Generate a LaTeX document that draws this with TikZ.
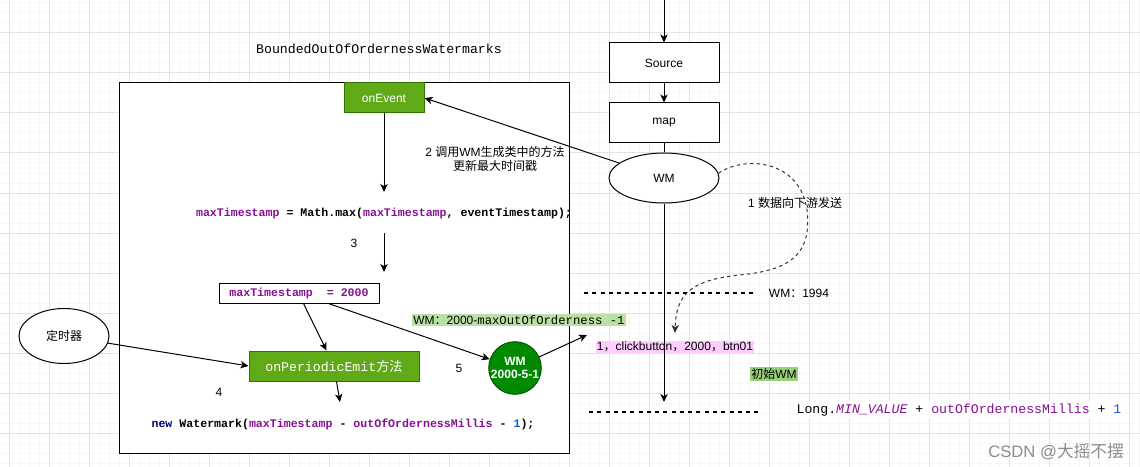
\documentclass[tikz,border=0pt]{standalone}
\usepackage{fontspec}
\setmainfont{Liberation Sans}
\newfontfamily\cjk{Noto Sans CJK SC}
\newfontfamily\mono{Liberation Mono}
\usetikzlibrary{arrows.meta,shapes.geometric,calc}
\definecolor{kwpurple}{HTML}{871094}
\definecolor{kwnavy}{HTML}{000080}
\definecolor{numblue}{HTML}{1750EB}
\definecolor{boxgreen}{HTML}{60A917}
\definecolor{boxgreenline}{HTML}{2D7600}
\definecolor{circgreen}{HTML}{008A00}
\definecolor{circgreenline}{HTML}{005700}
\definecolor{lblgreen}{HTML}{B9E0A5}
\definecolor{lblgreen2}{HTML}{97D077}
\definecolor{lblpink}{HTML}{FFCCFF}
\definecolor{gridminor}{HTML}{F7F7F7}
\definecolor{gridmajor}{HTML}{E3E3E3}
\newcommand{\pp}[1]{\textcolor{kwpurple}{#1}}
\tikzset{
  arr/.style={-{Stealth[length=6pt,width=5.5pt,inset=1.6pt]}},
  sans/.style={font=\fontsize{9}{11}\selectfont},
  plainbox/.style={draw=black,fill=white,minimum width=82.5pt,minimum height=30pt,inner sep=0pt,sans},
  greenbox/.style={draw=boxgreenline,fill=boxgreen,text=white,inner sep=0pt},
  lbl/.style={inner sep=1pt,sans},
  dotline/.style={line width=1.5pt,dash pattern=on 3pt off 3.2pt},
}
\begin{document}
\begin{tikzpicture}[x=0.75pt,y=-0.75pt,line width=0.75pt]
\useasboundingbox (0,0) rectangle (1140,467);
\fill[white] (0,0) rectangle (1140,467);
% grid
\foreach \x in {9,19,...,1139} \draw[gridminor,line width=0.75pt] (\x,0) -- (\x,467);
\foreach \y in {3,13,...,463} \draw[gridminor,line width=0.75pt] (0,\y) -- (1140,\y);
\foreach \x in {9,49,...,1129} \draw[gridmajor,line width=0.75pt] (\x,0) -- (\x,467);
\foreach \y in {33,73,...,453} \draw[gridmajor,line width=0.75pt] (0,\y) -- (1140,\y);

% title
\node (title) at (379,49) {\mono\fontsize{9.9}{12}\selectfont BoundedOutOfOrdernessWatermarks};

% frame
\node[draw=black,fill=white,minimum width=337.5pt,minimum height=277.5pt,inner sep=0pt] (frame) at (344,268) {};

% boxes in frame
\node[greenbox,minimum width=60pt,minimum height=22.5pt,sans] (onevent) at (384,98) {onEvent};
\node (mathmax) at (384,214) {\mono\bfseries\fontsize{8.7}{10}\selectfont \pp{maxTimestamp} = Math.max(\pp{maxTimestamp}, eventTimestamp);};
\node[lbl] (n3) at (354,243) {3};
\node[draw=black,fill=white,minimum width=120pt,minimum height=15pt,inner sep=0pt] (maxbox) at (299,293) {\mono\bfseries\fontsize{8.7}{10}\selectfont \pp{maxTimestamp\ \ = 2000}};
\node[greenbox,minimum width=127.5pt,minimum height=22.5pt] (periodic) at (334,366) {\mono\fontsize{9.9}{12}\selectfont onPeriodicEmit{\cjk 方法}};
\node[lbl] (n4) at (219,392) {4};
\node[lbl] (n5) at (459,368) {5};
\node[circle,draw=circgreenline,fill=circgreen,text=white,minimum size=39pt,inner sep=0pt,align=center,font=\bfseries\fontsize{9}{10}\selectfont] (wmc) at (515,368) {WM\\2000-5-1};
\node (newwm) at (343,424) {\mono\bfseries\fontsize{8.7}{10}\selectfont \textcolor{kwnavy}{new} Watermark(\pp{maxTimestamp} - \pp{outOfOrdernessMillis} - \textcolor{numblue}{1});};

% timer
\node[ellipse,draw=black,fill=white,minimum width=67.5pt,minimum height=41.25pt,inner sep=0pt,sans] (timer) at (64,336) {\cjk 定时器};

% right column
\coordinate (top) at (664,0);
\node[plainbox] (src) at (664,63) {Source};
\node[plainbox] (map) at (664,123) {map};
\node[ellipse,draw=black,fill=white,minimum width=82.5pt,minimum height=37.5pt,inner sep=0pt,sans] (wm) at (664,178) {WM};
\coordinate (wmend) at (664,402);

% labels
\node[lbl,align=center] (l2) at (495,159) {2 {\cjk 调用}WM{\cjk 生成类中的方法}\\{\cjk 更新最大时间戳}};
\node[lbl] (l1) at (795,203) {1 {\cjk 数据向下游发送}};
\node[lbl] (l1994) at (799,293) {WM{\cjk ：}1994};
\node[fill=lblgreen,inner sep=1.2pt,sans] (lwm) at (519,320) {WM{\cjk ：}2000-{\mono\fontsize{9.2}{11}\selectfont maxOutOfOrderness -1}};
\node[fill=lblpink,inner sep=0.6pt,sans] (lclick) at (675,347) {1{\cjk ，}clickbutton{\cjk ，}2000{\cjk ，}btn01};
\node[fill=lblgreen2,inner sep=0.8pt,sans] (linit) at (774,374) {{\cjk 初始}WM};
\node[fill=white,inner sep=2pt] (llong) at (959,410) {\mono\fontsize{9.9}{12}\selectfont Long.\textcolor{kwpurple}{\itshape MIN\_VALUE} + \pp{outOfOrdernessMillis} + \textcolor{numblue}{1}};
\node[text=black!45,inner sep=0pt] (csdn) at (1056,452) {\fontsize{12.5}{14}\selectfont CSDN @{\cjk 大摇不摆}};

% coordinates for connectors
\coordinate (a1e) at (384,192);
\coordinate (a3s) at (384,233);
\coordinate (a3e) at (384,272);
\coordinate (a4e) at (340,402);
\coordinate (c5) at (587,335);
\coordinate (d1a) at (584,293);
\coordinate (d1b) at (753,293);
\coordinate (d2a) at (589,412);
\coordinate (d2b) at (760,412);
\coordinate (dc1) at (807,210);
\coordinate (dc2) at (740,275);
\coordinate (dcend) at (675,333);

% connectors
\draw[arr] (top) -- (src.north);
\draw[arr] (src.south) -- (map.north);
\draw (map.south) -- (wm.north);
\draw[arr] (wm.south) -- (wmend);
\draw[arr] (wm) -- (onevent.east);
\draw[arr] (onevent.south) -- (a1e);
\draw[arr] (a3s) -- (a3e);
\draw[arr] ($(maxbox.south west)+(85,0)$) -- ($(periodic.north west)+(78,0)$);
\draw[arr] ($(maxbox.south west)+(110,0)$) -- (wmc);
\draw[arr] ($(periodic.south west)+(88,0)$) -- (a4e);
\draw[arr] (timer) -- (periodic.west);
\draw[arr] (wmc) -- (c5);
\draw[dotline] (d1a) -- (d1b);
\draw[dotline] (d2a) -- (d2b);
\draw[arr,dash pattern=on 2.5pt off 2.5pt,draw=black!80] (wm.5) .. controls (745,155) and (800,160) .. (dc1)
  .. controls (812,255) and (790,270) .. (dc2)
  .. controls (690,280) and (676,295) .. (dcend);
\end{tikzpicture}
\end{document}
